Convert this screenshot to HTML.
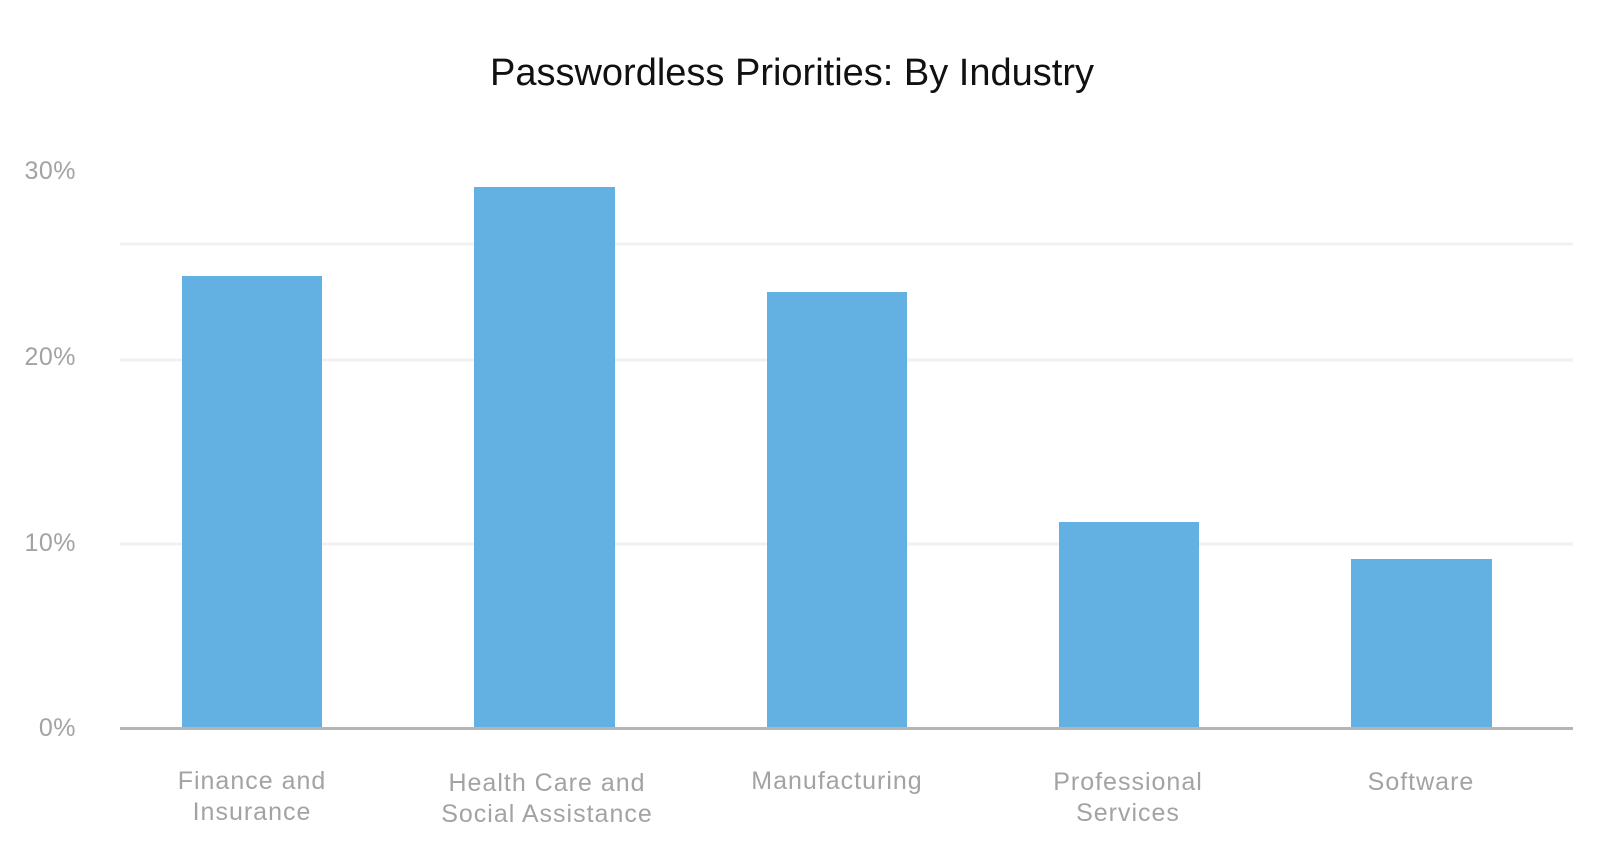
<!DOCTYPE html>
<html><head><meta charset="utf-8"><style>
html,body{margin:0;padding:0;background:#fff;}
svg{display:block;}
</style></head><body>
<svg width="1612" height="854" xmlns="http://www.w3.org/2000/svg" font-family="Liberation Sans, sans-serif">
<rect width="1612" height="854" fill="#fff"/>
<text x="792" y="85" text-anchor="middle" font-size="38" fill="#111">Passwordless Priorities: By Industry</text>
<g stroke="#f1f1f1" stroke-width="3">
<line x1="120" y1="244" x2="1573" y2="244"/>
<line x1="120" y1="360" x2="1573" y2="360"/>
<line x1="120" y1="544" x2="1573" y2="544"/>
</g>
<g fill="#a3a3a3" font-size="25" text-anchor="end" letter-spacing="0.5">
<text x="76" y="179">30%</text>
<text x="76" y="365">20%</text>
<text x="76" y="551">10%</text>
<text x="76" y="736">0%</text>
</g>
<g fill="#63b1e2">
<rect x="182" y="276" width="140" height="452"/>
<rect x="474" y="187" width="141" height="541"/>
<rect x="767" y="292" width="140" height="436"/>
<rect x="1059" y="522" width="140" height="206"/>
<rect x="1351" y="559" width="141" height="169"/>
</g>
<line x1="120" y1="728.5" x2="1573" y2="728.5" stroke="#b5b5b5" stroke-width="3"/>
<g fill="#a3a3a3" font-size="25" text-anchor="middle" letter-spacing="1">
<text x="252" y="789">Finance and</text><text x="252" y="820">Insurance</text>
<text x="547" y="791">Health Care and</text><text x="547" y="822">Social Assistance</text>
<text x="837" y="789">Manufacturing</text>
<text x="1128" y="790">Professional</text><text x="1128" y="821">Services</text>
<text x="1421" y="790">Software</text>
</g>
</svg>
</body></html>
